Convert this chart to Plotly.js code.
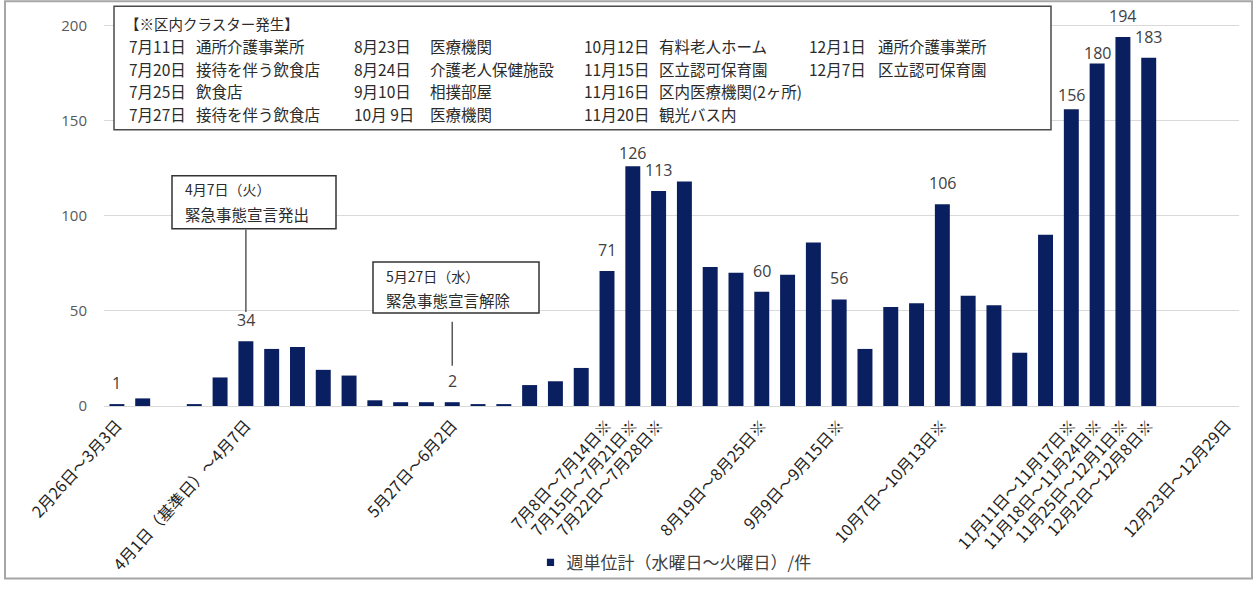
<!DOCTYPE html>
<html>
<head>
<meta charset="utf-8">
<script src="https://cdn.plot.ly/plotly-3.0.1.min.js"></script>
<style>
  html, body { margin: 0; padding: 0; background: #fff; }
  #chart { width: 1255px; height: 593px; }
  /* smaller legend swatch, closer to its text */
  #chart .legendpoints path { transform: translate(24px, 0px) scale(0.6); }
</style>
</head>
<body>
<div id="chart"></div>
<script>
// ---------- data ----------
const weeks = [
  '2月26日～3月3日', '3月4日～3月10日', '3月11日～3月17日', '3月18日～3月24日', '3月25日～3月31日',
  '4月1日（基準日）～4月7日', '4月8日～4月14日', '4月15日～4月21日', '4月22日～4月28日', '4月29日～5月5日',
  '5月6日～5月12日', '5月13日～5月19日', '5月20日～5月26日', '5月27日～6月2日', '6月3日～6月9日',
  '6月10日～6月16日', '6月17日～6月23日', '6月24日～6月30日', '7月1日～7月7日', '7月8日～7月14日',
  '7月15日～7月21日', '7月22日～7月28日', '7月29日～8月4日', '8月5日～8月11日', '8月12日～8月18日',
  '8月19日～8月25日', '8月26日～9月1日', '9月2日～9月8日', '9月9日～9月15日', '9月16日～9月22日',
  '9月23日～9月29日', '9月30日～10月6日', '10月7日～10月13日', '10月14日～10月20日', '10月21日～10月27日',
  '10月28日～11月3日', '11月4日～11月10日', '11月11日～11月17日', '11月18日～11月24日', '11月25日～12月1日',
  '12月2日～12月8日', '12月9日～12月15日', '12月16日～12月22日', '12月23日～12月29日'
];
const weeklyCases = [
  1, 4, 0, 1, 15, 34, 30, 31, 19, 16,
  3, 2, 2, 2, 1, 1, 11, 13, 20, 71,
  126, 113, 118, 73, 70, 60, 69, 86, 56, 30,
  52, 54, 106, 58, 53, 28, 90, 156, 180, 194,
  183, null, null, null
];
// weeks that contain a cluster (marked ※)
const clusterWeeks = [
  '7月8日～7月14日', '7月15日～7月21日', '7月22日～7月28日', '8月19日～8月25日', '9月9日～9月15日',
  '10月7日～10月13日', '11月11日～11月17日', '11月18日～11月24日', '11月25日～12月1日', '12月2日～12月8日'
];
// weeks whose tick label (and value label) is shown
const shownWeeks = [
  '2月26日～3月3日', '4月1日（基準日）～4月7日', '5月27日～6月2日', '7月8日～7月14日', '7月15日～7月21日',
  '7月22日～7月28日', '8月19日～8月25日', '9月9日～9月15日', '10月7日～10月13日', '11月11日～11月17日',
  '11月18日～11月24日', '11月25日～12月1日', '12月2日～12月8日', '12月23日～12月29日'
];
const seriesName = '週単位計（水曜日～火曜日）/件';

const clusterTitle = '【※区内クラスター発生】';
const clusterDates = [
  ['7月11日', '7月20日', '7月25日', '7月27日'],
  ['8月23日', '8月24日', '9月10日', '10月 9日'],
  ['10月12日', '11月15日', '11月16日', '11月20日'],
  ['12月1日', '12月7日']
];
const clusterPlaces = [
  ['通所介護事業所', '接待を伴う飲食店', '飲食店', '接待を伴う飲食店'],
  ['医療機関', '介護老人保健施設', '相撲部屋', '医療機関'],
  ['有料老人ホーム', '区立認可保育園', '区内医療機関(2ヶ所)', '観光バス内'],
  ['通所介護事業所', '区立認可保育園']
];
const event1Week = '4月1日（基準日）～4月7日';
const event1Text = ['4月7日（火）', '緊急事態宣言発出'];
const event2Week = '5月27日～6月2日';
const event2Text = ['5月27日（水）', '緊急事態宣言解除'];

// ---------- layout helpers (pixel -> paper) ----------
const W = 1255, H = 593;
const M = { l: 104, r: 16, t: 16, b: 179 };
const PW = W - M.l - M.r, PH = H - M.t - M.b;
const px = x => (x - M.l) / PW;
const py = y => (H - M.b - y) / PH;

const CJK = 'Noto Sans CJK JP';
const NUM = 'Open Sans, Noto Sans CJK JP';
const BAR = '#0a1f60';
const TXT = '#2b2b2b';

const tickText = shownWeeks.map(w => clusterWeeks.includes(w) ? w + '※' : w);

const annotations = [];
const shapes = [];

// value labels
const labelShift = { '7月15日～7月21日': 13, '11月11日～11月17日': 14, '11月18日～11月24日': 11 };
shownWeeks.forEach(w => {
  const v = weeklyCases[weeks.indexOf(w)];
  if (v === null || v === undefined) return;
  annotations.push({
    x: w, y: v, xref: 'x', yref: 'y', text: String(v), showarrow: false,
    yanchor: 'middle', yshift: labelShift[w] !== undefined ? labelShift[w] : 21,
    font: { family: NUM, size: 16, color: '#404040' }
  });
});

// cluster box
shapes.push({ type: 'rect', xref: 'paper', yref: 'paper', x0: px(114), x1: px(1051), y0: py(132), y1: py(6),
  line: { color: '#4a4a4a', width: 1.5 }, fillcolor: '#ffffff', layer: 'above' });
annotations.push({ xref: 'paper', yref: 'paper', x: px(124), y: py(24), xanchor: 'left', yanchor: 'middle',
  text: clusterTitle, showarrow: false, borderpad: 0, font: { family: CJK, size: 14.5, color: TXT } });
const dateX = [128, 353, 583, 808], placeX = [195, 429, 658, 877], rowY = [47, 70, 93, 116];
clusterDates.forEach((col, c) => {
  col.forEach((d, r) => {
    annotations.push({ xref: 'paper', yref: 'paper', x: px(dateX[c]), y: py(rowY[r]), xanchor: 'left', yanchor: 'middle',
      text: d, showarrow: false, borderpad: 0, font: { family: CJK, size: 15.5, color: TXT } });
    annotations.push({ xref: 'paper', yref: 'paper', x: px(placeX[c]), y: py(rowY[r]), xanchor: 'left', yanchor: 'middle',
      text: clusterPlaces[c][r], showarrow: false, borderpad: 0, font: { family: CJK, size: 15.5, color: TXT } });
  });
});

// event boxes
function eventBox(week, lines, x0, x1, y0, y1, lineTop, lineBottom) {
  shapes.push({ type: 'rect', xref: 'paper', yref: 'paper', x0: px(x0), x1: px(x1), y0: py(y1), y1: py(y0),
    line: { color: '#333', width: 1.5 }, fillcolor: '#ffffff', layer: 'above' });
  lines.forEach((t, i) => {
    annotations.push({ xref: 'paper', yref: 'paper', x: px(x0 + 12), y: py(y0 + 14 + i * 25), xanchor: 'left', yanchor: 'middle',
      text: t, showarrow: false, borderpad: 0, font: { family: CJK, size: i === 0 ? 14 : 15.5, color: TXT } });
  });
  shapes.push({ type: 'line', xref: 'x', yref: 'paper', x0: week, x1: week, y0: py(lineTop), y1: py(lineBottom),
    line: { color: '#595959', width: 1.5 } });
}
eventBox(event1Week, event1Text, 172, 336, 179, 233, 234, 318);
eventBox(event2Week, event2Text, 373, 539, 267, 319, 328, 373);

// outer frame
shapes.push({ type: 'rect', xref: 'paper', yref: 'paper', x0: px(5), x1: px(1252), y0: py(590), y1: py(1),
  line: { color: '#a6a6a6', width: 2 }, fillcolor: 'rgba(0,0,0,0)' });

const trace = {
  type: 'bar', x: weeks, y: weeklyCases, name: seriesName,
  marker: { color: BAR }, hoverinfo: 'x+y', showlegend: true
};

const layout = {
  width: W, height: H, margin: M,
  paper_bgcolor: '#ffffff', plot_bgcolor: '#ffffff',
  bargap: 0.42,
  showlegend: true,
  legend: { orientation: 'h', x: 0.5, xanchor: 'center', y: py(574), yanchor: 'middle',
    font: { family: CJK, size: 17, color: '#404040' }, bgcolor: 'rgba(0,0,0,0)' },
  xaxis: {
    type: 'category', categoryorder: 'array', categoryarray: weeks, range: [-0.5, weeks.length - 0.5],
    tickmode: 'array', tickvals: shownWeeks, ticktext: tickText, tickangle: -48,
    tickfont: { family: CJK, size: 16, color: '#1f1f1f' }, ticklabelstandoff: 6,
    showgrid: false, zeroline: false, showline: false, ticks: ''
  },
  yaxis: {
    range: [0, 205], dtick: 50, tick0: 0,
    showgrid: true, gridcolor: '#d9d9d9', gridwidth: 1,
    zeroline: true, zerolinecolor: '#d9d9d9', zerolinewidth: 1,
    showline: false, ticks: '', ticklabelstandoff: 16,
    tickfont: { family: NUM, size: 15, color: '#595959' }
  },
  annotations: annotations,
  shapes: shapes
};

Plotly.newPlot('chart', [trace], layout, { displayModeBar: false, staticPlot: true });
</script>
</body>
</html>
